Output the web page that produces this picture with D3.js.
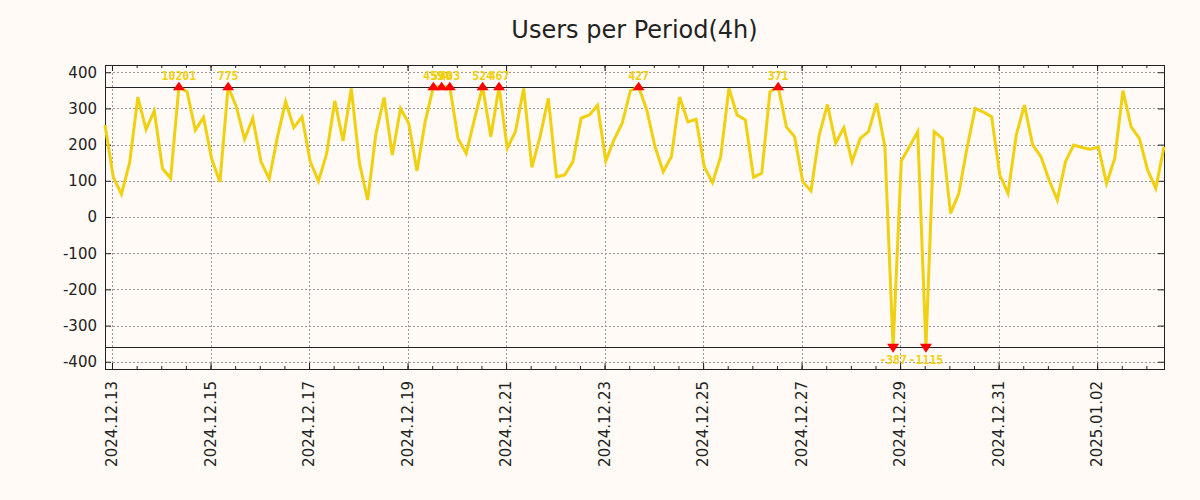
<!DOCTYPE html>
<html>
<head>
<meta charset="utf-8">
<script src="https://cdn.jsdelivr.net/npm/d3@7"></script>
<style>
  body { margin: 0; background: #fffaf5; }
  svg { display: block; font-family: "DejaVu Sans", sans-serif; }
</style>
</head>
<body>
<svg id="chart" width="1200" height="500"></svg>
<script>
// 4h buckets, the first one starts 2024-12-12 20:35 UTC
const startTime = Date.UTC(2024, 11, 12, 20, 35);
const stepHours = 4;

const users = [
  254, 111, 63, 150, 331, 242, 293, 134, 107, 10201,
  346, 240, 275, 160, 97, 775, 305, 215, 273, 153,
  105, 220, 319, 247, 277, 153, 99, 175, 321, 210,
  355, 148, 47, 230, 330, 171, 300, 259, 127, 263,
  459, 590, 403, 217, 176, 270, 524, 222, 467, 190,
  236, 355, 137, 222, 328, 111, 116, 153, 273, 282,
  309, 155, 213, 259, 349, 427, 296, 194, 125, 167,
  332, 263, 270, 139, 95, 167, 355, 282, 268, 110,
  121, 346, 371, 249, 222, 97, 72, 226, 311, 204,
  247, 153, 217, 236, 314, 194, -387, 155, 195, 236,
  -1115, 236, 217, 10, 65, 190, 300, 290, 277, 116,
  65, 226, 309, 199, 167, 102, 47, 153, 199, 192,
  187, 194, 93, 162, 349, 249, 217, 130, 79, 194
];

const yTicks = [-400, -300, -200, -100, 0, 100, 200, 300, 400];
const dateTicks = [
  '2024.12.13', '2024.12.15', '2024.12.17', '2024.12.19', '2024.12.21', '2024.12.23',
  '2024.12.25', '2024.12.27', '2024.12.29', '2024.12.31', '2025.01.02'
];
const clipLimit = 360;

const width = 1200;
const height = 500;
const margin = { top: 65, right: 36, bottom: 131, left: 105 };
const lineColor = '#f0d010';

const data = users.map((v, i) => ({ t: new Date(startTime + i * stepHours * 3600e3), v }));
const parseTick = d3.utcParse('%Y.%m.%d');
const fmtTick = d3.utcFormat('%Y.%m.%d');
const tickDates = dateTicks.map(parseTick);

const svg = d3.select('#chart');

const x = d3.scaleUtc()
  .domain(d3.extent(data, d => d.t))
  .range([margin.left, width - margin.right]);

const y = d3.scaleLinear()
  .domain([-420, 420])
  .range([height - margin.bottom, margin.top]);

const clamp = v => Math.max(-clipLimit, Math.min(clipLimit, v));

// grid
const grid = svg.append('g')
  .attr('stroke', '#999')
  .attr('stroke-width', 1)
  .attr('stroke-dasharray', '2,2');

grid.selectAll('.hgrid')
  .data(yTicks)
  .enter()
  .append('line')
  .attr('x1', margin.left)
  .attr('x2', width - margin.right)
  .attr('y1', d => Math.round(y(d)) + 0.5)
  .attr('y2', d => Math.round(y(d)) + 0.5);

grid.selectAll('.vgrid')
  .data(tickDates)
  .enter()
  .append('line')
  .attr('y1', margin.top)
  .attr('y2', height - margin.bottom)
  .attr('x1', d => Math.round(x(d)) + 0.5)
  .attr('x2', d => Math.round(x(d)) + 0.5);

// clip limit lines
svg.selectAll('.limit')
  .data([clipLimit, -clipLimit])
  .enter()
  .append('line')
  .attr('stroke', '#222')
  .attr('x1', margin.left)
  .attr('x2', width - margin.right)
  .attr('y1', d => Math.round(y(d)) + 0.5)
  .attr('y2', d => Math.round(y(d)) + 0.5);

// axes, ticks point inward
const minorTicks = d3.utcHour.every(12).range(x.domain()[0], x.domain()[1]);

const yAxis = g =>
  g.attr('transform', `translate(${margin.left},0)`).call(
    d3.axisLeft(y)
      .tickValues(yTicks)
      .tickSizeInner(-6)
      .tickSizeOuter(0)
      .tickPadding(8)
      .tickFormat(d => String(d))
  );

const yAxisRight = g =>
  g.attr('transform', `translate(${width - margin.right},0)`).call(
    d3.axisRight(y)
      .tickValues(yTicks)
      .tickSizeInner(-6)
      .tickSizeOuter(0)
      .tickFormat('')
  );

const xAxis = g =>
  g.attr('transform', `translate(0,${height - margin.bottom})`).call(
    d3.axisBottom(x)
      .tickValues(tickDates)
      .tickSizeInner(-6)
      .tickSizeOuter(0)
      .tickFormat(fmtTick)
  );

const xAxisTop = g =>
  g.attr('transform', `translate(0,${margin.top})`).call(
    d3.axisTop(x)
      .tickValues(tickDates)
      .tickSizeInner(-6)
      .tickSizeOuter(0)
      .tickFormat('')
  );

const xMinor = (g, top) =>
  g.attr('transform', `translate(0,${top ? margin.top : height - margin.bottom})`).call(
    (top ? d3.axisTop(x) : d3.axisBottom(x))
      .tickValues(minorTicks)
      .tickSizeInner(-3)
      .tickSizeOuter(0)
      .tickFormat('')
  );

svg.append('g').call(yAxis);
svg.append('g').call(yAxisRight);
svg.append('g').call(xAxis);
svg.append('g').call(xAxisTop);
svg.append('g').call(g => xMinor(g, false));
svg.append('g').call(g => xMinor(g, true));

svg.selectAll('.domain').remove();
svg.selectAll('.tick line').attr('stroke', '#222');
svg.selectAll('.tick text')
  .attr('fill', '#222')
  .style('font-family', '"DejaVu Sans", sans-serif')
  .style('font-size', '15px');

// rotate date labels
svg.selectAll('.tick text')
  .filter(d => d instanceof Date)
  .attr('transform', 'rotate(-90)')
  .attr('x', -12)
  .attr('y', 0)
  .attr('dy', '0.3em')
  .style('text-anchor', 'end');

// frame
svg.append('rect')
  .attr('x', margin.left + 0.5)
  .attr('y', margin.top + 0.5)
  .attr('width', width - margin.left - margin.right)
  .attr('height', height - margin.top - margin.bottom)
  .attr('fill', 'none')
  .attr('stroke', '#222');

// line
const line = d3.line()
  .x(d => x(d.t))
  .y(d => y(clamp(d.v)));

svg.append('path')
  .datum(data)
  .attr('fill', 'none')
  .attr('stroke', lineColor)
  .attr('stroke-width', 3)
  .attr('d', line);

// markers for values outside the limits
const over = data.filter(d => d.v > clipLimit);
const under = data.filter(d => d.v < -clipLimit);

svg.selectAll('.over')
  .data(over)
  .enter()
  .append('path')
  .attr('fill', 'red')
  .attr('d', d => {
    const cx = x(d.t), cy = y(clipLimit);
    return `M${cx - 6},${cy + 3.5}L${cx + 6},${cy + 3.5}L${cx},${cy - 5}Z`;
  });

svg.selectAll('.under')
  .data(under)
  .enter()
  .append('path')
  .attr('fill', 'red')
  .attr('d', d => {
    const cx = x(d.t), cy = y(-clipLimit);
    return `M${cx - 6},${cy - 3.5}L${cx + 6},${cy - 3.5}L${cx},${cy + 5.5}Z`;
  });

const labelStyle = sel => sel
  .attr('fill', lineColor)
  .attr('text-anchor', 'middle')
  .style('font-family', '"DejaVu Sans Mono", monospace')
  .style('font-weight', 'bold')
  .style('font-size', '11.5px');

svg.selectAll('.overLabel')
  .data(over)
  .enter()
  .append('text')
  .call(labelStyle)
  .attr('x', d => x(d.t))
  .attr('y', y(clipLimit) - 7)
  .text(d => String(d.v));

svg.selectAll('.underLabel')
  .data(under)
  .enter()
  .append('text')
  .call(labelStyle)
  .attr('x', d => x(d.t))
  .attr('y', y(-clipLimit) + 17)
  .text(d => String(d.v));

// title
svg.append('text')
  .attr('x', (margin.left + width - margin.right) / 2)
  .attr('y', 38)
  .attr('text-anchor', 'middle')
  .attr('fill', '#222')
  .style('font-size', '24px')
  .text('Users per Period(4h)');
</script>
</body>
</html>
